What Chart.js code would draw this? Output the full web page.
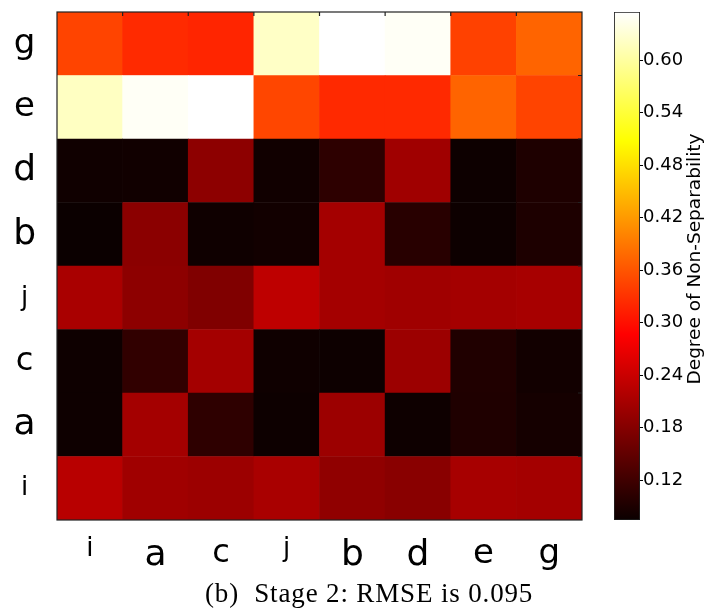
<!DOCTYPE html>
<html>
<head>
<meta charset="utf-8">
<script src="https://cdn.jsdelivr.net/npm/chart.js"></script>
<style>
body { margin: 0; background: #fff; }
#wrap { position: relative; width: 705px; height: 615px; overflow: hidden; }
#heat { position: absolute; left: 0; top: 0; }
#cbar { position: absolute; left: 600px; top: 0; }
#caption { position: absolute; left: 205px; top: 578px; font-family: "Liberation Serif", serif; font-size: 27px; letter-spacing: 0.85px; line-height: 30px; color: #000; white-space: nowrap; }
</style>
</head>
<body>
<div id="wrap">
  <canvas id="heat" width="600" height="580"></canvas>
  <canvas id="cbar" width="105" height="580"></canvas>
  <div id="caption">(b)&nbsp; Stage 2: RMSE is 0.095</div>
</div>
<script>
// categories, left to right / bottom to top
var colLabels = ["i", "a", "c", "j", "b", "d", "e", "g"];
var rowLabels = ["i", "a", "c", "j", "b", "d", "e", "g"];

// degree of non-separability, one array per row, columns as colLabels
var rowI = [0.225, 0.204, 0.200, 0.212, 0.190, 0.184, 0.210, 0.207];
var rowA = [0.077, 0.207, 0.105, 0.076, 0.200, 0.077, 0.092, 0.083];
var rowC = [0.077, 0.108, 0.207, 0.078, 0.076, 0.200, 0.093, 0.081];
var rowJ = [0.212, 0.187, 0.176, 0.230, 0.207, 0.204, 0.207, 0.210];
var rowB = [0.075, 0.186, 0.078, 0.081, 0.207, 0.100, 0.076, 0.090];
var rowD = [0.079, 0.080, 0.187, 0.080, 0.104, 0.204, 0.076, 0.091];
var rowE = [0.620, 0.650, 0.655, 0.347, 0.322, 0.322, 0.373, 0.345];
var rowG = [0.345, 0.323, 0.318, 0.622, 0.655, 0.650, 0.343, 0.373];

// colour limits and colorbar ticks
var cbMin = 0.0743;
var cbMax = 0.655;
var cbTicks = [0.12, 0.18, 0.24, 0.30, 0.36, 0.42, 0.48, 0.54, 0.60];

var rows = [rowI, rowA, rowC, rowJ, rowB, rowD, rowE, rowG];

// label sizes differ in the original figure
var labelSize = { i: 26, j: 26, c: 32, a: 36, e: 34, b: 36, d: 36, g: 34 };
var sans = "'DejaVu Sans', sans-serif";

// matplotlib "hot"
function hotRGB(v) {
  var t = (v - cbMin) / (cbMax - cbMin);
  t = Math.max(0, Math.min(1, t));
  var r = t < 0.365079 ? 0.0416 + t / 0.365079 * (1 - 0.0416) : 1;
  var g = t < 0.365079 ? 0 : (t < 0.746032 ? (t - 0.365079) / (0.746032 - 0.365079) : 1);
  var b = t < 0.746032 ? 0 : (t - 0.746032) / (1 - 0.746032);
  return "rgb(" + Math.round(r * 255) + "," + Math.round(g * 255) + "," + Math.round(b * 255) + ")";
}

var frame = {
  id: "frame",
  afterDatasetsDraw: function (chart) {
    var a = chart.chartArea, c = chart.ctx;
    var xs = chart.scales.x, ys = chart.scales.y;
    c.save();
    c.strokeStyle = "#222";
    c.lineWidth = 1.2;
    c.beginPath();
    for (var k = 1; k < colLabels.length; k++) {
      var x = (xs.getPixelForValue(k - 1) + xs.getPixelForValue(k)) / 2;
      c.moveTo(x, a.top); c.lineTo(x, a.top + 4);
    }
    for (var k = 1; k < rowLabels.length; k++) {
      var y = ys.getPixelForValue(k);
      c.moveTo(a.right, y); c.lineTo(a.right - 4, y);
    }
    c.stroke();
    c.strokeRect(a.left, a.top, a.width, a.height);
    c.restore();
  }
};

var heatData = {
  labels: colLabels,
  datasets: rows.map(function (vals, r) {
    return {
      label: rowLabels[r],
      data: vals.map(function () { return 1; }),
      backgroundColor: vals.map(hotRGB),
      borderWidth: 0,
      barPercentage: 1,
      categoryPercentage: 1
    };
  })
};

new Chart(document.getElementById("heat"), {
  type: "bar",
  data: heatData,
  plugins: [frame],
  options: {
    responsive: false,
    animation: false,
    layout: { padding: { top: 12, right: 18, left: 0, bottom: 0 } },
    plugins: { legend: { display: false }, tooltip: { enabled: false } },
    scales: {
      x: {
        stacked: true,
        grid: { display: false },
        border: { display: false },
        ticks: {
          color: "#000",
          padding: 6,
          maxRotation: 0,
          font: function (ctx) { return { family: sans, size: labelSize[colLabels[ctx.index]] || 32 }; }
        },
        afterFit: function (s) { s.height = 60; s.paddingLeft = 0; s.paddingRight = 0; }
      },
      y: {
        stacked: true,
        min: 0,
        max: rowLabels.length,
        grid: { display: false },
        border: { display: false },
        afterBuildTicks: function (s) {
          s.ticks = rowLabels.map(function (l, i) { return { value: i + 0.5 }; });
        },
        ticks: {
          color: "#000",
          crossAlign: "center",
          padding: 13,
          callback: function (v) { return rowLabels[Math.floor(v)]; },
          font: function (ctx) { return { family: sans, size: labelSize[rowLabels[ctx.index]] || 32 }; }
        },
        afterFit: function (s) { s.width = 57; s.paddingTop = 0; s.paddingBottom = 0; }
      }
    }
  }
});

// colorbar
function cbGradient(ctx) {
  var chart = ctx.chart;
  if (!chart.chartArea) return null;
  var ys = chart.scales.y;
  var g = chart.ctx.createLinearGradient(0, ys.getPixelForValue(cbMin), 0, ys.getPixelForValue(cbMax));
  [0, 0.365079, 0.746032, 1].forEach(function (s) {
    g.addColorStop(s, hotRGB(cbMin + s * (cbMax - cbMin)));
  });
  return g;
}

var cbTitle = {
  id: "cbTitle",
  afterDraw: function (chart) {
    var c = chart.ctx;
    c.save();
    c.translate(95, 259);
    c.rotate(-Math.PI / 2);
    c.font = "18.5px " + sans;
    c.fillStyle = "#000";
    c.textAlign = "center";
    c.textBaseline = "middle";
    c.fillText("Degree of Non-Separability", 0, 0);
    c.restore();
  }
};

new Chart(document.getElementById("cbar"), {
  type: "bar",
  data: {
    labels: ["cb"],
    datasets: [{
      data: [[cbMin, cbMax]],
      backgroundColor: cbGradient,
      borderColor: "#222",
      borderWidth: 1.2,
      borderSkipped: false,
      barPercentage: 1,
      categoryPercentage: 1
    }]
  },
  plugins: [cbTitle],
  options: {
    responsive: false,
    animation: false,
    layout: { padding: { top: 12, left: 14, bottom: 60, right: 0 } },
    plugins: { legend: { display: false }, tooltip: { enabled: false } },
    scales: {
      x: { display: false },
      y: {
        position: "right",
        min: cbMin,
        max: cbMax,
        border: { display: false },
        grid: { drawOnChartArea: false, tickLength: 3, color: "#000" },
        afterBuildTicks: function (s) {
          s.ticks = cbTicks.map(function (v) { return { value: v }; });
        },
        ticks: {
          color: "#000",
          padding: 0,
          font: { family: sans, size: 18 },
          callback: function (v) { return v.toFixed(2); }
        },
        afterFit: function (s) { s.width = 65; s.paddingTop = 0; s.paddingBottom = 0; }
      }
    }
  }
});
</script>
</body>
</html>
